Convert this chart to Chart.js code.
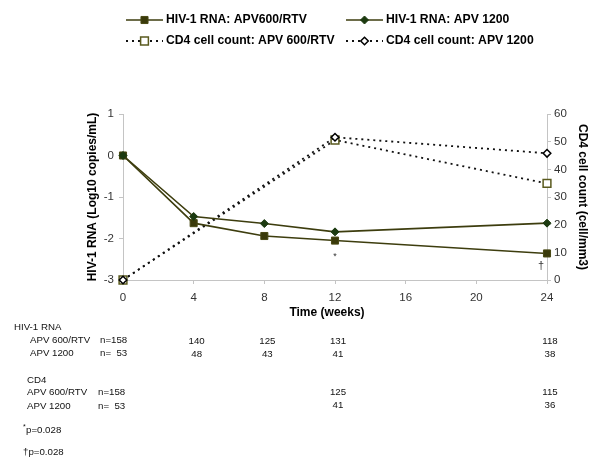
<!DOCTYPE html>
<html>
<head>
<meta charset="utf-8">
<script src="https://cdn.jsdelivr.net/npm/chart.js@4.4.1/dist/chart.umd.min.js"></script>
<style>
html,body{margin:0;padding:0;background:#fff;}
#c{display:block;}
</style>
</head>
<body>
<canvas id="c" width="600" height="465"></canvas>
<script>
// ---- data ----
const weeks = [0, 4, 8, 12, 24];
const rnaApv600Rtv = [0, -1.63, -1.94, -2.05, -2.36];
const rnaApv1200 = [0, -1.47, -1.64, -1.84, -1.63];
const cd4Weeks = [0, 12, 24];
const cd4Apv600Rtv = [0, 50.6, 34.9];
const cd4Apv1200 = [0, 51.6, 45.8];
const seriesLabels = ['HIV-1 RNA: APV600/RTV', 'HIV-1 RNA: APV 1200', 'CD4 cell count: APV 600/RTV', 'CD4 cell count: APV 1200'];
// table of n at each week
const rnaTableWeeks = [4, 8, 12, 24];
const rnaN600 = [140, 125, 131, 118];
const rnaN1200 = [48, 43, 41, 38];
const cd4TableWeeks = [12, 24];
const cd4N600 = [125, 115];
const cd4N1200 = [41, 36];
const baselineN600 = 'n=158';
const baselineN1200 = 'n=  53';

const OLIVE = '#3d3d0e';
const pts = (xs, ys) => xs.map((x, i) => ({x: x, y: ys[i]}));

const FONT = '"Liberation Sans", Arial, sans-serif';

function drawMarker(ctx, style, x, y, r, fill, stroke, bw) {
  ctx.save();
  ctx.setLineDash([]);
  ctx.beginPath();
  if (style === 'rect') {
    const s = Math.SQRT1_2 * r;
    ctx.rect(x - s, y - s, 2 * s, 2 * s);
  } else {
    ctx.moveTo(x, y - r); ctx.lineTo(x + r, y); ctx.lineTo(x, y + r); ctx.lineTo(x - r, y); ctx.closePath();
  }
  ctx.fillStyle = fill; ctx.fill();
  ctx.lineWidth = bw; ctx.strokeStyle = stroke; ctx.stroke();
  ctx.restore();
}

const extras = {
  id: 'extras',
  afterDraw(chart) {
    const ctx = chart.ctx;
    const xs = chart.scales.x, yl = chart.scales.y;
    ctx.save();
    // x axis title
    ctx.fillStyle = '#000';
    ctx.font = 'bold 12px ' + FONT;
    ctx.textAlign = 'center'; ctx.textBaseline = 'middle';
    ctx.fillText('Time (weeks)', (xs.left + xs.right) / 2 - 8, 313);

    // significance marks
    ctx.font = '9px ' + FONT;
    ctx.fillStyle = '#333';
    ctx.fillText('*', xs.getPixelForValue(12), yl.getPixelForValue(-2.43));
    ctx.font = '11px ' + FONT;
    ctx.fillText('\u2020', xs.getPixelForValue(24) - 6, yl.getPixelForValue(-2.65));

    // legend
    ctx.font = 'bold 12.2px ' + FONT;
    ctx.textAlign = 'left';
    ctx.fillStyle = '#000';
    const cols = [126, 346];
    const rows = [20, 41];
    chart.data.datasets.forEach((ds, i) => {
      const cx = cols[i % 2], cy = rows[Math.floor(i / 2)];
      ctx.save();
      ctx.strokeStyle = ds.borderColor;
      ctx.lineWidth = ds.borderWidth;
      ctx.setLineDash(ds.borderDash || []);
      ctx.beginPath(); ctx.moveTo(cx, cy); ctx.lineTo(cx + 37, cy); ctx.stroke();
      ctx.restore();
      drawMarker(ctx, ds.pointStyle, cx + 18.5, cy, ds.pointRadius, ds.pointBackgroundColor, ds.pointBorderColor, ds.pointBorderWidth);
      ctx.fillStyle = '#000';
      ctx.fillText(ds.label, cx + 40, cy);
    });

    // table
    ctx.font = '9.7px ' + FONT;
    ctx.fillStyle = '#111';
    ctx.textAlign = 'left';
    ctx.fillText('HIV-1 RNA', 14, 327);
    ctx.fillText('APV 600/RTV', 30, 340);
    ctx.fillText(baselineN600, 100, 340);
    ctx.fillText('APV 1200', 30, 353);
    ctx.fillText(baselineN1200, 100, 353);
    ctx.fillText('CD4', 27, 380);
    ctx.fillText('APV 600/RTV', 27, 392);
    ctx.fillText(baselineN600, 98, 392);
    ctx.fillText('APV 1200', 27, 406);
    ctx.fillText(baselineN1200, 98, 406);
    ctx.fillText('p=0.028', 26, 430);
    ctx.fillText('\u2020p=0.028', 23, 452);
    ctx.font = '7px ' + FONT;
    ctx.fillText('*', 23, 427);
    ctx.font = '9.7px ' + FONT;
    ctx.textAlign = 'center';
    rnaTableWeeks.forEach((w, i) => {
      const px = xs.getPixelForValue(w) + 3;
      ctx.fillText(String(rnaN600[i]), px, 341);
      ctx.fillText(String(rnaN1200[i]), px, 354);
    });
    cd4TableWeeks.forEach((w, i) => {
      const px = xs.getPixelForValue(w) + 3;
      ctx.fillText(String(cd4N600[i]), px, 392);
      ctx.fillText(String(cd4N1200[i]), px, 405);
    });
    ctx.restore();
  }
};

Chart.defaults.font.family = FONT;

new Chart(document.getElementById('c'), {
  type: 'line',
  data: {
    datasets: [
      {
        label: seriesLabels[0], data: pts(weeks, rnaApv600Rtv), yAxisID: 'y', clip: false,
        borderColor: OLIVE, borderWidth: 1.6, pointStyle: 'rect', pointRadius: 5,
        pointBackgroundColor: '#3a3a0a', pointBorderColor: '#4a4a14', pointBorderWidth: 1, order: 2
      },
      {
        label: seriesLabels[1], data: pts(weeks, rnaApv1200), yAxisID: 'y', clip: false,
        borderColor: OLIVE, borderWidth: 1.6, pointStyle: 'rectRot', pointRadius: 4,
        pointBackgroundColor: '#1c3a10', pointBorderColor: '#1c3a10', pointBorderWidth: 1, order: 1
      },
      {
        label: seriesLabels[2], data: pts(cd4Weeks, cd4Apv600Rtv), yAxisID: 'y2', clip: false,
        borderColor: '#111', borderWidth: 1.8, borderDash: [2, 4], pointStyle: 'rect', pointRadius: 5.5,
        pointBackgroundColor: '#fff', pointBorderColor: '#5a5a1e', pointBorderWidth: 1.5, order: 4
      },
      {
        label: seriesLabels[3], data: pts(cd4Weeks, cd4Apv1200), yAxisID: 'y2', clip: false,
        borderColor: '#111', borderWidth: 1.8, borderDash: [2, 4], pointStyle: 'rectRot', pointRadius: 3.8,
        pointBackgroundColor: '#fff', pointBorderColor: '#000', pointBorderWidth: 1.5, order: 3
      }
    ]
  },
  options: {
    responsive: false,
    animation: false,
    devicePixelRatio: 1,
    layout: { padding: { left: 0, right: 0, top: 114, bottom: 145 } },
    plugins: { legend: { display: false }, tooltip: { enabled: false } },
    elements: { line: { tension: 0, fill: false } },
    scales: {
      x: {
        type: 'linear', min: 0, max: 24,
        ticks: { stepSize: 4, color: '#333', font: { size: 11.5 }, padding: 7 },
        grid: { drawOnChartArea: false, drawTicks: true, tickLength: 4, color: '#c4c4c4' },
        border: { display: true, color: '#c4c4c4' },
        afterFit(s) { s.height = 40; }
      },
      y: {
        position: 'left', min: -3, max: 1,
        ticks: { stepSize: 1, color: '#333', font: { size: 11.5 }, padding: 5 },
        grid: { drawOnChartArea: false, drawTicks: true, tickLength: 4, color: '#c4c4c4' },
        border: { display: true, color: '#c4c4c4' },
        title: { display: true, text: 'HIV-1 RNA (Log10 copies/mL)', color: '#000', font: { size: 12, weight: 'bold' }, padding: { top: 85, bottom: 0 } },
        afterFit(s) { s.width = 123; }
      },
      y2: {
        position: 'right', min: 0, max: 60,
        ticks: { stepSize: 10, color: '#333', font: { size: 11.5 }, padding: 3 },
        grid: { drawOnChartArea: false, drawTicks: true, tickLength: 4, color: '#c4c4c4' },
        border: { display: true, color: '#c4c4c4' },
        title: { display: true, text: 'CD4 cell count (cell/mm3)', color: '#000', font: { size: 12, weight: 'bold' }, padding: { top: 10, bottom: 0 } },
        afterFit(s) { s.width = 53; }
      }
    }
  },
  plugins: [extras]
});
</script>
</body>
</html>
